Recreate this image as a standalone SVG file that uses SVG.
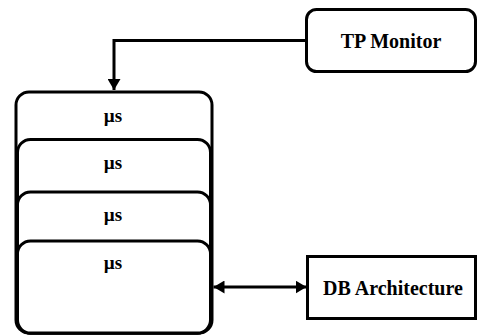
<svg xmlns="http://www.w3.org/2000/svg" width="477" height="336" viewBox="0 0 477 336">
  <style>
    .box { fill: #ffffff; stroke: #000000; stroke-width: 3; }
    .lbl { font-family: 'Liberation Serif', 'DejaVu Serif', serif; font-weight: 700; font-size: 20px; text-anchor: middle; fill: #000000; }
    .mu { font-size: 19px; }
    .wire { fill: none; stroke: #000000; stroke-width: 3; }
  </style>
  <defs>
    <marker id="head" viewBox="0 0 11 13" refX="11" refY="6.5" markerWidth="11" markerHeight="13" markerUnits="userSpaceOnUse" orient="auto-start-reverse">
      <path d="M0,0 L11,6.5 L0,13 Z" fill="#000000"/>
    </marker>
  </defs>
  <rect width="477" height="336" fill="#ffffff"/>

  <g id="tp-monitor">
    <rect class="box" x="306.5" y="9.5" width="169" height="62" rx="10"/>
    <text class="lbl" x="391" y="48">TP Monitor</text>
  </g>

  <g id="services">
    <rect class="box" x="16" y="92" width="196" height="241" rx="13"/>
    <rect class="box" x="17.5" y="139.5" width="193" height="193.5" rx="13"/>
    <rect class="box" x="17.5" y="192" width="193" height="141" rx="13"/>
    <rect class="box" x="17.5" y="241" width="193" height="92" rx="13"/>
    <text class="lbl mu" x="113" y="122">µs</text>
    <text class="lbl mu" x="113" y="169">µs</text>
    <text class="lbl mu" x="113" y="221">µs</text>
    <text class="lbl mu" x="113" y="269">µs</text>
  </g>

  <g id="db-architecture">
    <rect class="box" x="307.5" y="256.5" width="168" height="62"/>
    <text class="lbl" x="393" y="295">DB Architecture</text>
  </g>

  <g id="connectors">
    <path class="wire" d="M306,40.5 H114 V90" marker-end="url(#head)"/>
    <path class="wire" d="M213.5,287 H306.5" marker-start="url(#head)" marker-end="url(#head)"/>
  </g>
</svg>
